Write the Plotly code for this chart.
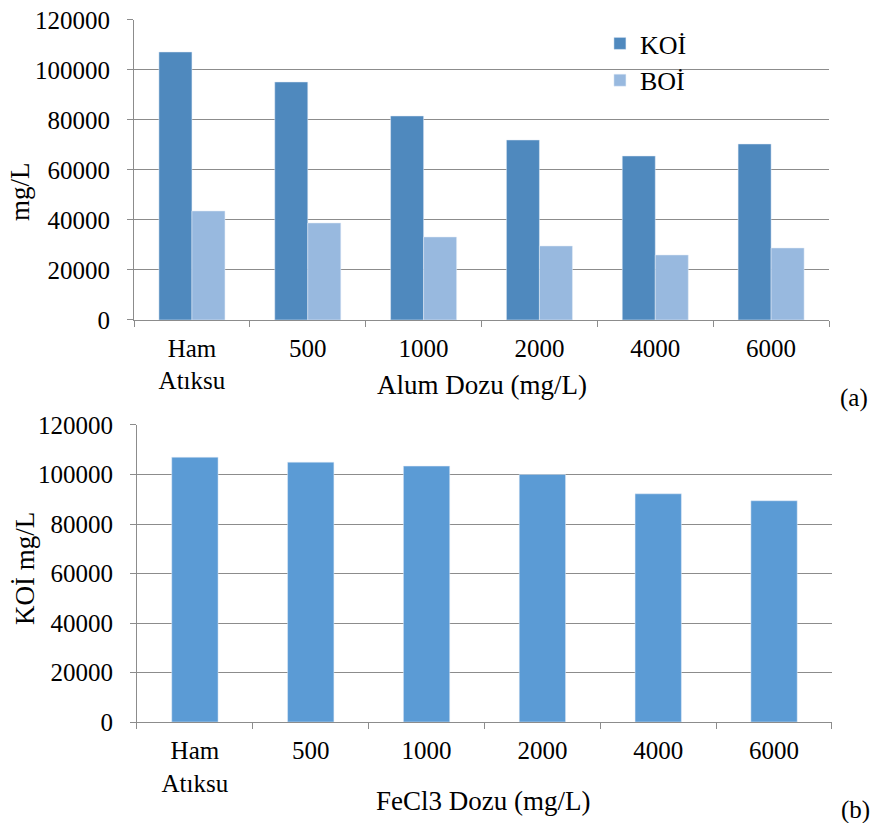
import plotly.graph_objects as go

categories = ["Ham<br>Atıksu", "500", "1000", "2000", "4000", "6000"]
koi_alum = [107200, 95200, 81600, 72000, 65600, 70400]
boi_alum = [43600, 38800, 33200, 29600, 26000, 28800]
koi_fecl3 = [107000, 105000, 103400, 100000, 92200, 89400]
y_ticks = [0, 20000, 40000, 60000, 80000, 100000, 120000]
y_ticktext = [str(v) for v in y_ticks]

FONT = "Times New Roman, Liberation Serif, serif"
GRID = "#8c8c8c"
FS_TICK = 25
FS_LEG = 26
FS_TITLE = 27

fig = go.Figure()
fig.add_trace(go.Bar(x=categories, y=koi_alum, name="KOİ", marker_color="#4f89be",
                     width=0.285, offset=-0.285, xaxis="x", yaxis="y"))
fig.add_trace(go.Bar(x=categories, y=boi_alum, name="BOİ", marker_color="#98b9df",
                     width=0.285, offset=0.0, xaxis="x", yaxis="y"))
fig.add_trace(go.Bar(x=categories, y=koi_fecl3, name="KOİ", marker_color="#5b9bd5",
                     width=0.4, offset=-0.2, xaxis="x2", yaxis="y2", showlegend=False))

axis_common = dict(showline=True, linecolor=GRID, linewidth=1, ticks="outside",
                   tickcolor=GRID, ticklen=6, automargin=False,
                   tickfont=dict(family=FONT, size=FS_TICK, color="black"))

fig.update_layout(
    width=872, height=823, autosize=False,
    margin=dict(l=0, r=0, t=0, b=0, pad=0, autoexpand=False),
    paper_bgcolor="white", plot_bgcolor="white",
    font=dict(family=FONT, size=FS_TICK, color="black"),
    barmode="group",
    xaxis=dict(domain=[0.1537, 0.9507], anchor="y", type="category", tickson="boundaries",
               showgrid=False, ticklabelstandoff=6, **axis_common),
    yaxis=dict(domain=[0.6112, 0.9757], anchor="x", range=[0, 120000], tickvals=y_ticks,
               ticktext=y_ticktext, showgrid=True, gridcolor=GRID, gridwidth=1,
               zeroline=False, ticklabelstandoff=12, **axis_common),
    xaxis2=dict(domain=[0.1571, 0.9541], anchor="y2", type="category", tickson="boundaries",
                showgrid=False, ticklabelstandoff=6, **axis_common),
    yaxis2=dict(domain=[0.1227, 0.4836], anchor="x2", range=[0, 120000], tickvals=y_ticks,
                ticktext=y_ticktext, showgrid=True, gridcolor=GRID, gridwidth=1,
                zeroline=False, ticklabelstandoff=12, **axis_common),
    legend=dict(x=0.688, y=0.9757, xanchor="left", yanchor="top", bgcolor="rgba(0,0,0,0)",
                font=dict(family=FONT, size=FS_LEG), tracegroupgap=0),
    showlegend=True,
    annotations=[
        dict(text="mg/L", x=20/872, y=1-192/823, xref="paper", yref="paper", textangle=-90,
             showarrow=False, font=dict(family=FONT, size=FS_TITLE), xanchor="center", yanchor="middle"),
        dict(text="KOİ mg/L", x=25/872, y=1-569/823, xref="paper", yref="paper", textangle=-90,
             showarrow=False, font=dict(family=FONT, size=FS_TITLE), xanchor="center", yanchor="middle"),
        dict(text="Alum Dozu (mg/L)", x=482/872, y=1-385/823, xref="paper", yref="paper",
             showarrow=False, font=dict(family=FONT, size=FS_TITLE), xanchor="center", yanchor="middle"),
        dict(text="FeCl3 Dozu (mg/L)", x=483/872, y=1-801/823, xref="paper", yref="paper",
             showarrow=False, font=dict(family=FONT, size=FS_TITLE), xanchor="center", yanchor="middle"),
        dict(text="(a)", x=870/872, y=1-398/823, xref="paper", yref="paper",
             showarrow=False, font=dict(family=FONT, size=FS_TICK), xanchor="right", yanchor="middle"),
        dict(text="(b)", x=1.0, y=1-810/823, xref="paper", yref="paper",
             showarrow=False, font=dict(family=FONT, size=FS_TICK), xanchor="right", yanchor="middle"),
    ],
)

fig.write_html("out.html", config={"displayModeBar": False},
               post_script="document.body.style.margin='0';")
